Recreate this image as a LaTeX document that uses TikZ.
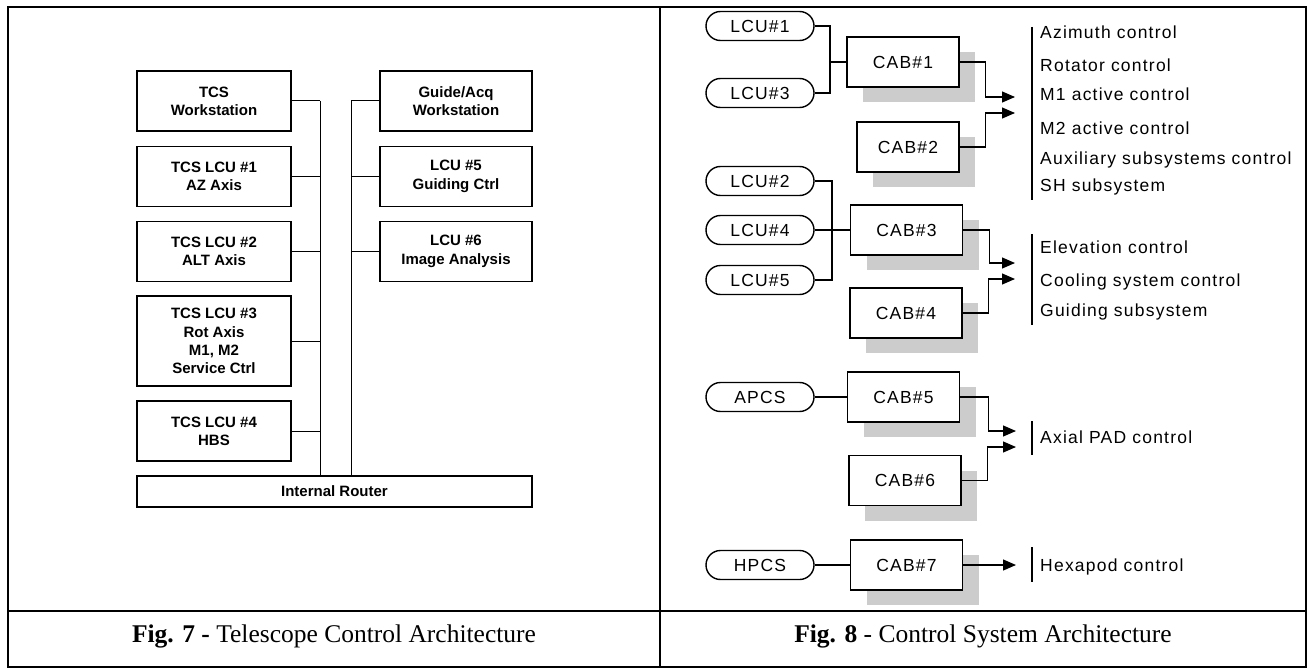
\documentclass[tikz,border=0pt]{standalone}
\usepackage{fontspec}
\setmainfont{Liberation Serif}
\newfontfamily\hv{Liberation Sans}
\newfontfamily\hvsp[LetterSpace=7]{Liberation Sans}
\usetikzlibrary{arrows.meta,shadows,calc}
\begin{document}
\begin{tikzpicture}[x=1pt,y=-1pt,
  frame/.style={line width=1.4pt},
  lbox/.style={draw, line width=1.8pt, minimum width=154pt, minimum height=60pt, align=center, inner sep=0pt, font=\fontsize{15}{18.3}\selectfont\hv\bfseries},
  conn/.style={line width=1pt},
  oval/.style={draw, line width=1.4pt, rounded corners=14.5pt, minimum width=108pt, minimum height=29pt, inner sep=0pt, font=\fontsize{17.5}{20}\selectfont\hvsp},
  cab/.style={draw, fill=white, line width=1.4pt, minimum width=112pt, minimum height=50pt, inner sep=0pt, font=\fontsize{17.5}{20}\selectfont\hvsp,
    drop shadow={shadow xshift=16pt, shadow yshift=-15pt, fill=black!20, opacity=1}},
  rconn/.style={line width=1.2pt},
  arr/.style={line width=1.2pt, -{Triangle[length=13pt,width=11pt]}},
  txt/.style={anchor=base west, inner sep=0pt, font=\fontsize{17.5}{20}\selectfont\hvsp},
  bar/.style={line width=1.4pt},
  capt/.style={anchor=base, inner sep=0pt, font=\fontsize{25.5}{30}\selectfont}
]
\useasboundingbox (0,0) rectangle (1310,669);
\fill[white] (0,0) rectangle (1310,669);
% frame
\draw[frame] (8,7) rectangle (1306,667);
\draw[frame] (660,7) -- (660,667);
\draw[frame] (8,611) -- (1306,611);

% ---------- left diagram ----------
\node[lbox] (tcsws) at (214,101) {TCS\\Workstation};
\node[lbox] (lcu1l) at (214,176.5) {TCS LCU \#1\\AZ Axis};
\node[lbox] (lcu2l) at (214,251.5) {TCS LCU \#2\\ALT Axis};
\node[lbox, minimum height=90pt] (lcu3l) at (214,341) {TCS LCU \#3\\Rot Axis\\M1, M2\\Service Ctrl};
\node[lbox] (lcu4l) at (214,431) {TCS LCU \#4\\HBS};
\node[lbox, minimum width=152pt] (gws) at (456,101) {Guide/Acq\\Workstation};
\node[lbox, minimum width=152pt] (lcu5l) at (456,176.5) {LCU \#5\\Guiding Ctrl};
\node[lbox, minimum width=152pt] (lcu6l) at (456,251.5) {LCU \#6\\Image Analysis};
\node[lbox, minimum width=395pt, minimum height=31pt] (router) at (334.5,491.5) {Internal Router};

\coordinate (bl) at (320,101);
\coordinate (br) at (351,101);
\draw[conn] (bl) -- (bl |- router.north);
\draw[conn] (br) -- (br |- router.north);
\foreach \n in {tcsws,lcu1l,lcu2l,lcu3l,lcu4l} \draw[conn] (\n.east) -- (\n.east -| bl);
\foreach \n in {gws,lcu5l,lcu6l} \draw[conn] (\n.west) -- (\n.west -| br);

% ---------- right diagram ----------
\node[oval] (lcu1) at (760,26) {LCU\#1};
\node[oval] (lcu3) at (760,93) {LCU\#3};
\node[oval] (lcu2) at (760,181) {LCU\#2};
\node[oval] (lcu4) at (760,230) {LCU\#4};
\node[oval] (lcu5) at (760,280) {LCU\#5};
\node[oval] (apcs) at (760,397) {APCS};
\node[oval] (hpcs) at (760,565) {HPCS};

\node[cab] (cab1) at (903,62) {CAB\#1};
\node[cab, minimum width=102pt] (cab2) at (908,147) {CAB\#2};
\node[cab] (cab3) at (906.5,230) {CAB\#3};
\node[cab] (cab4) at (906,313) {CAB\#4};
\node[cab] (cab5) at (903.5,397) {CAB\#5};
\node[cab] (cab6) at (905,480.5) {CAB\#6};
\node[cab] (cab7) at (906.5,565) {CAB\#7};

\coordinate (j1) at (830,62);
\coordinate (j2) at (832,230);
\draw[rconn] (lcu1.east) -| (j1);
\draw[rconn] (lcu3.east) -| (j1);
\draw[rconn] (j1) -- (cab1.west);
\draw[rconn] (lcu2.east) -| (j2);
\draw[rconn] (lcu5.east) -| (j2);
\draw[rconn] (lcu4.east) -- (cab3.west);
\draw[rconn] (apcs.east) -- (cab5.west);
\draw[rconn] (hpcs.east) -- (cab7.west);

\coordinate (a1) at (1015,97);
\coordinate (a2) at (1015,113);
\coordinate (a3) at (1015,263);
\coordinate (a4) at (1015,279);
\coordinate (a5) at (1016,431);
\coordinate (a6) at (1016,447);
\coordinate (a7) at (1016,565);
\draw[arr] (cab1.east) -- ++(26,0) |- (a1);
\draw[arr] (cab2.east) -- ++(26,0) |- (a2);
\draw[arr] (cab3.east) -- ++(26,0) |- (a3);
\draw[arr] (cab4.east) -- ++(26,0) |- (a4);
\draw[arr] (cab5.east) -- ++(28,0) |- (a5);
\draw[arr] (cab6.east) -- ++(26,0) |- (a6);
\draw[arr] (cab7.east) -- (a7);

% text lists
\draw[bar] (1032,27) -- (1032,200);
\node[txt] (t1) at (1040,39) {Azimuth control};
\node[txt] (t2) at (1040,71) {Rotator control};
\node[txt] (t3) at (1040,100) {M1 active control};
\node[txt] (t4) at (1040,134) {M2 active control};
\node[txt] (t5) at (1040,164) {Auxiliary subsystems control};
\node[txt] (t6) at (1040,191) {SH subsystem};

\draw[bar] (1032,234) -- (1032,325);
\node[txt] (t7) at (1040,253) {Elevation control};
\node[txt] (t8) at (1040,286) {Cooling system control};
\node[txt] (t9) at (1040,316) {Guiding subsystem};

\draw[bar] (1032,421) -- (1032,455);
\node[txt] (t10) at (1040,443) {Axial PAD control};

\draw[bar] (1032,547) -- (1032,582);
\node[txt] (t11) at (1040,571) {Hexapod control};

% captions
\node[capt] (cap7) at (334,642) {\textbf{Fig. 7 -} Telescope Control Architecture};
\node[capt] (cap8) at (983,642) {\textbf{Fig. 8} - Control System Architecture};
\end{tikzpicture}
\end{document}
